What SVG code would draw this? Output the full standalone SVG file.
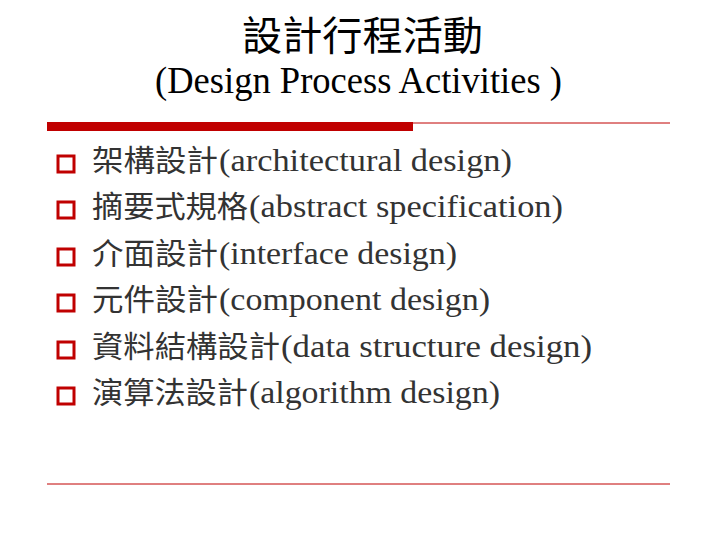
<svg xmlns="http://www.w3.org/2000/svg" width="717" height="538" viewBox="0 0 717 538">
<style>
.t{font-family:"Liberation Serif","Noto Sans CJK TC",serif;fill:#000}
.b{font-family:"Liberation Serif","Noto Sans CJK TC",serif;fill:#333;font-size:31px}
.c{font-family:"Noto Sans CJK TC",sans-serif;font-size:30px}
.bx{fill:none;stroke:#c00000;stroke-width:3}
</style>
<rect width="717" height="538" fill="#fff"/>
<text class="t" x="242" y="50" font-size="40" textLength="241" lengthAdjust="spacingAndGlyphs" style="font-family:'Noto Sans CJK TC',sans-serif">設計行程活動</text>
<text class="t" x="155" y="93" font-size="37" textLength="407" lengthAdjust="spacingAndGlyphs">(Design Process Activities )</text>
<rect x="47" y="122" width="366" height="9" fill="#c00000"/>
<line x1="413" y1="123" x2="670" y2="123" stroke="#c00000" stroke-width="1"/>
<line x1="47" y1="484" x2="670" y2="484" stroke="#c00000" stroke-width="1"/>
<g id="items">
<rect class="bx" x="58" y="156" width="16" height="16"/><text class="b" y="171"><tspan class="c" x="92" textLength="126" lengthAdjust="spacingAndGlyphs">架構設計</tspan><tspan x="219" textLength="293" lengthAdjust="spacingAndGlyphs">(architectural design)</tspan></text>
<rect class="bx" x="58" y="202" width="16" height="16"/><text class="b" y="217"><tspan class="c" x="92" textLength="156" lengthAdjust="spacingAndGlyphs">摘要式規格</tspan><tspan x="249" textLength="314" lengthAdjust="spacingAndGlyphs">(abstract specification)</tspan></text>
<rect class="bx" x="58" y="249" width="16" height="16"/><text class="b" y="264"><tspan class="c" x="92" textLength="126" lengthAdjust="spacingAndGlyphs">介面設計</tspan><tspan x="219" textLength="238" lengthAdjust="spacingAndGlyphs">(interface design)</tspan></text>
<rect class="bx" x="58" y="295" width="16" height="16"/><text class="b" y="310"><tspan class="c" x="92" textLength="126" lengthAdjust="spacingAndGlyphs">元件設計</tspan><tspan x="219" textLength="271" lengthAdjust="spacingAndGlyphs">(component design)</tspan></text>
<rect class="bx" x="58" y="342" width="16" height="16"/><text class="b" y="357"><tspan class="c" x="92" textLength="188" lengthAdjust="spacingAndGlyphs">資料結構設計</tspan><tspan x="281" textLength="311" lengthAdjust="spacingAndGlyphs">(data structure design)</tspan></text>
<rect class="bx" x="58" y="388" width="16" height="16"/><text class="b" y="403"><tspan class="c" x="92" textLength="156" lengthAdjust="spacingAndGlyphs">演算法設計</tspan><tspan x="249" textLength="251" lengthAdjust="spacingAndGlyphs">(algorithm design)</tspan></text>
</g>
</svg>
